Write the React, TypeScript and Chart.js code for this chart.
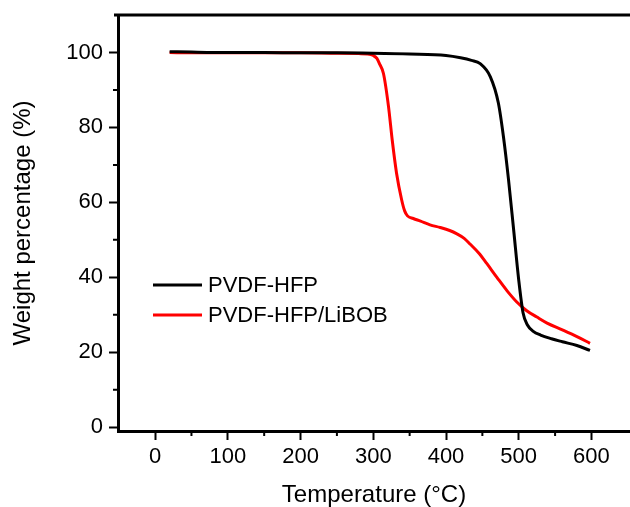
import { useEffect, useRef } from "react";
import { Chart, registerables } from "chart.js";

Chart.register(...registerables);

// Axis ticks
const temperatureTicks = [0, 100, 200, 300, 400, 500, 600];
const weightTicks = [0, 20, 40, 60, 80, 100];
const temperatureMinorTicks = [50, 150, 250, 350, 450, 550];
const weightMinorTicks = [10, 30, 50, 70, 90];

// Series
const seriesLabels = ["PVDF-HFP", "PVDF-HFP/LiBOB"];
const seriesColors = ["#000000", "#ff0000"];

const pvdfTemp = [20, 50, 100, 150, 200, 250, 300, 350, 400, 420, 435, 447, 461, 472, 479, 486, 493, 500, 506, 512, 520, 530, 545, 560, 580, 598];
const pvdfWeight = [100.2, 100.1, 100, 100, 99.9, 99.9, 99.8, 99.6, 99.2, 98.6, 97.9, 97.0, 93.5, 86.5, 77.5, 66, 52.7, 39.3, 30.5, 27.3, 25.6, 24.6, 23.6, 22.8, 21.8, 20.5];

const libobTemp = [20, 50, 100, 150, 200, 250, 280, 292, 300, 305, 309, 314, 321, 326, 332, 339, 343, 347, 355, 365, 378, 392, 405, 415, 425, 433, 445, 456, 470, 484, 497, 511, 525, 539, 560, 580, 598];
const libobWeight = [100, 99.9, 99.9, 99.9, 99.9, 99.8, 99.7, 99.6, 99.2, 98.4, 96.8, 94.4, 85.5, 76.7, 67.8, 60.7, 57.8, 56.4, 55.7, 55.0, 54.0, 53.3, 52.5, 51.6, 50.4, 48.9, 46.5, 43.7, 40, 36.4, 33.5, 31.1, 29.4, 27.8, 26, 24.2, 22.4];

const FONT = "'Liberation Sans', Arial, Helvetica, sans-serif";

const framePlugin = {
  id: "frameAndLegend",
  afterDraw(chart: any) {
    const { ctx, chartArea, scales } = chart;
    ctx.save();
    ctx.strokeStyle = "#000";
    ctx.lineWidth = 3;
    ctx.beginPath();
    ctx.moveTo(chartArea.left - 4, chartArea.top);
    ctx.lineTo(chartArea.right, chartArea.top);
    ctx.stroke();

    ctx.lineWidth = 2;
    ctx.beginPath();
    for (const v of temperatureMinorTicks) {
      const x = scales.x.getPixelForValue(v);
      ctx.moveTo(x, chartArea.bottom);
      ctx.lineTo(x, chartArea.bottom + 5);
    }
    for (const v of weightMinorTicks) {
      const y = scales.y.getPixelForValue(v);
      ctx.moveTo(chartArea.left, y);
      ctx.lineTo(chartArea.left - 5, y);
    }
    ctx.stroke();

    // Legend
    ctx.font = `22px ${FONT}`;
    ctx.textBaseline = "middle";
    ctx.textAlign = "left";
    chart.data.datasets.forEach((ds: any, i: number) => {
      const y = chartArea.top + 270 + i * 30;
      ctx.strokeStyle = ds.borderColor;
      ctx.lineWidth = 3;
      ctx.beginPath();
      ctx.moveTo(chartArea.left + 35, y);
      ctx.lineTo(chartArea.left + 84, y);
      ctx.stroke();
      ctx.fillStyle = "#000";
      ctx.fillText(ds.label, chartArea.left + 90, y + 1);
    });
    ctx.restore();
  },
};

export default function App() {
  const canvasRef = useRef<HTMLCanvasElement | null>(null);

  useEffect(() => {
    if (!canvasRef.current) return;
    const chart = new Chart(canvasRef.current, {
      type: "line",
      data: {
        datasets: [
          {
            label: seriesLabels[0],
            data: pvdfTemp.map((t, i) => ({ x: t, y: pvdfWeight[i] })),
            borderColor: seriesColors[0],
            borderWidth: 3,
            pointRadius: 0,
            cubicInterpolationMode: "monotone",
            fill: false,
          },
          {
            label: seriesLabels[1],
            data: libobTemp.map((t, i) => ({ x: t, y: libobWeight[i] })),
            borderColor: seriesColors[1],
            borderWidth: 3,
            pointRadius: 0,
            cubicInterpolationMode: "monotone",
            fill: false,
          },
        ],
      },
      options: {
        animation: false,
        responsive: false,
        maintainAspectRatio: false,
        layout: { padding: { top: 15, left: 0, right: 0, bottom: 0 } },
        plugins: { legend: { display: false }, tooltip: { enabled: false } },
        scales: {
          x: {
            type: "linear",
            min: -51,
            max: 653,
            afterBuildTicks: (scale: any) => {
              scale.ticks = temperatureTicks.map((v) => ({ value: v }));
            },
            afterFit: (scale: any) => {
              scale.height = 76;
              scale.paddingLeft = 0;
              scale.paddingRight = 0;
            },
            grid: {
              display: true,
              drawOnChartArea: false,
              drawTicks: true,
              tickLength: 9,
              tickWidth: 2,
              tickColor: "#000",
            },
            border: { display: true, color: "#000", width: 3 },
            ticks: {
              color: "#000",
              font: { family: FONT, size: 22 },
              padding: 4,
              maxRotation: 0,
              autoSkip: false,
            },
            title: {
              display: true,
              text: "Temperature (°C)",
              color: "#000",
              font: { family: FONT, size: 24, lineHeight: 1 },
              padding: { top: 0, bottom: 0 },
            },
          },
          y: {
            type: "linear",
            min: -1,
            max: 110,
            afterBuildTicks: (scale: any) => {
              scale.ticks = weightTicks.map((v) => ({ value: v }));
            },
            afterFit: (scale: any) => {
              scale.width = 118;
              scale.paddingTop = 0;
              scale.paddingBottom = 0;
            },
            grid: {
              display: true,
              drawOnChartArea: false,
              drawTicks: true,
              tickLength: 9,
              tickWidth: 2,
              tickColor: "#000",
            },
            border: { display: true, color: "#000", width: 3 },
            ticks: {
              color: "#000",
              font: { family: FONT, size: 22 },
              padding: 6,
              autoSkip: false,
            },
            title: {
              display: true,
              text: "Weight percentage (%)",
              color: "#000",
              font: { family: FONT, size: 24, lineHeight: 1 },
              padding: { top: 11, bottom: 0 },
            },
          },
        },
      },
      plugins: [framePlugin],
    } as any);
    return () => chart.destroy();
  }, []);

  return (
    <div style={{ position: "fixed", left: 0, top: 0, width: 630, height: 507, background: "#fff" }}>
      <canvas ref={canvasRef} width={630} height={507} style={{ display: "block" }} />
    </div>
  );
}
